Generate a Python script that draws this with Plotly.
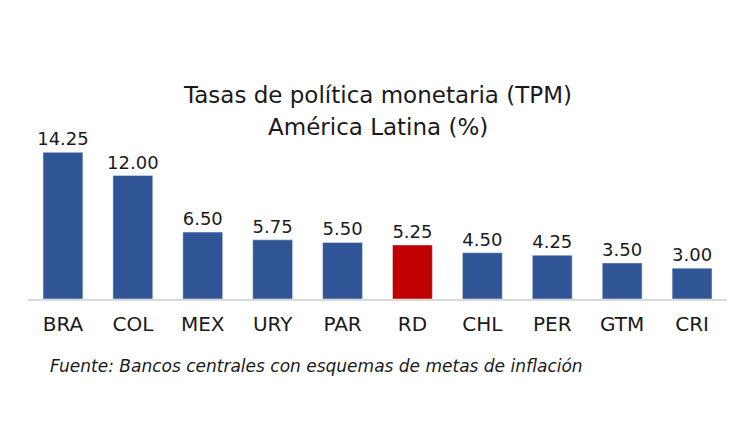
import plotly.graph_objects as go

paises = ["BRA", "COL", "MEX", "URY", "PAR", "RD", "CHL", "PER", "GTM", "CRI"]
tasas = [14.25, 12.00, 6.50, 5.75, 5.50, 5.25, 4.50, 4.25, 3.50, 3.00]
destacado = "RD"

colores = ["#C00000" if p == destacado else "#2F5597" for p in paises]

# la pagina tiene un margen de 8px en el body; todo se mide en pixeles de pantalla
OFF = 8
W, H = 750 - OFF, 430 - OFF
izq, der, arriba, base = 28, 727, 140, 299
m_l, m_r, m_t, m_b = izq - OFF, W - (der - OFF), arriba - OFF, H - (base - OFF)
alto = H - m_t - m_b
ancho = W - m_l - m_r


def py(y_pant):
    return (H - m_b - (y_pant - OFF)) / alto


def px(x_pant):
    return (x_pant - OFF - m_l) / ancho


fig = go.Figure(
    data=[
        go.Bar(
            x=paises,
            y=tasas,
            marker_color=colores,
            text=[f"{v:.2f}" for v in tasas],
            textposition="outside",
            constraintext="none",
            textfont=dict(size=18, color="#1a1a1a", family="DejaVu Sans"),
            cliponaxis=False,
        )
    ]
)

fig.update_layout(
    width=W,
    height=H,
    margin=dict(l=m_l, r=m_r, t=m_t, b=m_b),
    paper_bgcolor="white",
    plot_bgcolor="white",
    showlegend=False,
    bargap=0.43,
    font=dict(family="DejaVu Sans", color="#1a1a1a"),
    xaxis=dict(
        showline=True,
        linecolor="#D9D9D9",
        linewidth=1.5,
        ticks="",
        ticklabelstandoff=6,
        tickfont=dict(size=20, color="#1a1a1a"),
        showgrid=False,
        automargin=False,
    ),
    yaxis=dict(range=[0, 15.45], visible=False, showgrid=False),
    annotations=[
        dict(
            text="Tasas de política monetaria (TPM)",
            x=0.5, y=py(95), xref="paper", yref="paper", yanchor="middle",
            showarrow=False, font=dict(size=23, color="#1a1a1a"),
        ),
        dict(
            text="América Latina (%)",
            x=0.5, y=py(127), xref="paper", yref="paper", yanchor="middle",
            showarrow=False, font=dict(size=23, color="#1a1a1a"),
        ),
        dict(
            text="<i>Fuente: Bancos centrales con esquemas de metas de inflación</i>",
            x=px(48), y=py(366), xref="paper", yref="paper",
            xanchor="left", yanchor="middle",
            showarrow=False, font=dict(size=17, color="#1a1a1a"),
        ),
    ],
)

fig.write_html("out.html")
